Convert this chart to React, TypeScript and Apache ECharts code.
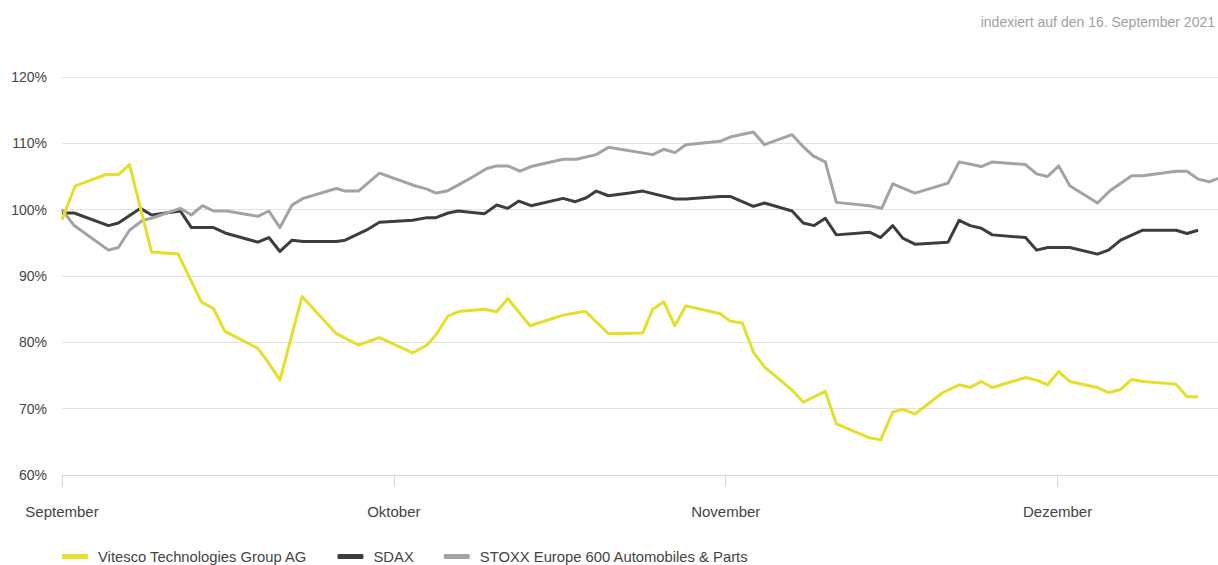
import React, { useEffect, useRef } from "react";
import * as echarts from "echarts";

// x = days since 16 September 2021 (index date), y = indexed value in %
const vitescoDays = [0, 1.2, 4.0, 5.1, 6.1, 8.1, 10.5, 12.6, 13.7, 14.7, 17.7, 18.6, 19.7, 21.7, 24.8, 26.8, 28.7, 31.7, 33.0, 33.8, 34.9, 36.0, 38.2, 39.3, 40.3, 42.3, 45.3, 47.3, 49.4, 52.5, 53.4, 54.4, 55.4, 56.4, 59.5, 60.4, 61.5, 62.5, 63.5, 66.0, 67.0, 69.0, 70.0, 73.0, 74.0, 75.1, 76.0, 77.1, 79.6, 81.1, 82.1, 83.1, 84.1, 87.1, 88.1, 89.1, 90.1, 91.1, 93.6, 94.6, 95.7, 96.7, 97.7, 100.7, 101.7, 102.7];
const vitescoValues = [98.5, 103.6, 105.3, 105.3, 106.8, 93.6, 93.3, 86.1, 85.1, 81.7, 79.1, 77.1, 74.3, 86.9, 81.3, 79.6, 80.7, 78.4, 79.6, 81.1, 84.0, 84.7, 85.0, 84.6, 86.6, 82.5, 84.1, 84.7, 81.3, 81.4, 85.0, 86.1, 82.5, 85.5, 84.3, 83.2, 82.9, 78.5, 76.3, 72.8, 71.0, 72.6, 67.7, 65.6, 65.3, 69.5, 69.9, 69.2, 72.4, 73.6, 73.2, 74.1, 73.2, 74.7, 74.3, 73.6, 75.6, 74.1, 73.2, 72.4, 72.9, 74.4, 74.1, 73.7, 71.8, 71.8];

const sdaxDays = [0, 1.1, 4.2, 5.1, 7.1, 8.1, 10.7, 11.7, 13.7, 14.9, 17.7, 18.7, 19.7, 20.8, 21.8, 24.8, 25.6, 27.5, 28.7, 31.7, 33.0, 33.8, 34.9, 35.8, 38.2, 39.3, 40.3, 41.3, 42.4, 45.3, 46.4, 47.4, 48.3, 49.4, 51.3, 52.5, 55.4, 56.4, 59.5, 60.4, 62.5, 63.5, 66.0, 67.0, 68.0, 69.0, 70.0, 73.0, 74.0, 75.1, 76.0, 77.1, 80.1, 81.1, 82.1, 83.1, 84.1, 87.1, 88.1, 89.1, 91.1, 93.6, 94.6, 95.7, 97.7, 100.7, 101.7, 102.7];
const sdaxValues = [99.5, 99.5, 97.6, 98.0, 100.2, 99.2, 99.8, 97.3, 97.3, 96.4, 95.1, 95.8, 93.7, 95.4, 95.2, 95.2, 95.4, 96.9, 98.1, 98.4, 98.8, 98.8, 99.5, 99.8, 99.4, 100.7, 100.2, 101.3, 100.6, 101.7, 101.2, 101.8, 102.8, 102.1, 102.5, 102.8, 101.6, 101.6, 102.0, 102.0, 100.5, 101.0, 99.8, 98.0, 97.6, 98.7, 96.2, 96.6, 95.8, 97.6, 95.7, 94.8, 95.1, 98.4, 97.6, 97.2, 96.2, 95.8, 93.9, 94.3, 94.3, 93.3, 93.9, 95.4, 96.9, 96.9, 96.4, 96.9];

const stoxxDays = [0, 1.1, 4.2, 5.1, 6.1, 7.3, 8.1, 10.7, 11.7, 12.7, 13.7, 14.9, 17.7, 18.7, 19.7, 20.8, 21.8, 24.8, 25.6, 26.8, 28.7, 31.9, 33.0, 33.8, 34.8, 35.8, 37.2, 38.4, 39.3, 40.3, 41.4, 42.4, 45.3, 46.5, 48.3, 49.4, 53.4, 54.4, 55.4, 56.4, 59.5, 60.5, 62.5, 63.5, 66.0, 67.0, 67.9, 69.0, 70.0, 73.0, 74.1, 75.1, 77.1, 80.1, 81.1, 83.1, 84.1, 87.1, 88.1, 89.1, 90.1, 91.1, 93.6, 94.7, 96.7, 97.7, 100.7, 101.7, 102.7, 103.7, 104.5];
const stoxxValues = [100.0, 97.6, 93.9, 94.3, 96.9, 98.4, 98.7, 100.2, 99.2, 100.6, 99.8, 99.8, 99.0, 99.8, 97.3, 100.7, 101.7, 103.2, 102.8, 102.8, 105.5, 103.6, 103.1, 102.5, 102.8, 103.7, 105.0, 106.2, 106.6, 106.6, 105.8, 106.5, 107.6, 107.6, 108.3, 109.4, 108.3, 109.1, 108.6, 109.8, 110.3, 111.0, 111.7, 109.8, 111.3, 109.5, 108.1, 107.2, 101.1, 100.6, 100.2, 103.9, 102.5, 104.0, 107.2, 106.5, 107.2, 106.8, 105.4, 105.0, 106.6, 103.6, 101.0, 102.8, 105.1, 105.1, 105.8, 105.8, 104.6, 104.2, 104.7];

const monthTickDays = [0, 30, 60, 90];
const monthLabels = ["September", "Oktober", "November", "Dezember"];

const seriesNames = ["Vitesco Technologies Group AG", "SDAX", "STOXX Europe 600 Automobiles & Parts"];
const seriesColors = ["#e3df2b", "#3d3d3d", "#a3a3a3"];

const subtitle = "indexiert auf den 16. September 2021";

const pairs = (xs: number[], ys: number[]) => xs.map((x, i) => [x, ys[i]]);

export default function App() {
  const ref = useRef<HTMLDivElement>(null);
  useEffect(() => {
    if (!ref.current) return;
    const chart = echarts.init(ref.current, null, { renderer: "svg" });
    const font = "Liberation Sans, Arial, Helvetica, sans-serif";
    const datasets = [
      pairs(vitescoDays, vitescoValues),
      pairs(sdaxDays, sdaxValues),
      pairs(stoxxDays, stoxxValues),
    ];
    chart.setOption({
      animation: false,
      backgroundColor: "#ffffff",
      textStyle: { fontFamily: font },
      grid: { left: 62, right: 0, top: 77, bottom: 90, containLabel: false },
      graphic: [
        {
          type: "text",
          right: 3,
          top: 15,
          style: { text: subtitle, fill: "#a0a0a0", font: `14px ${font}` },
        },
      ],
      legend: {
        left: 62,
        top: 549,
        padding: 0,
        icon: "roundRect",
        itemWidth: 26,
        itemHeight: 5,
        itemGap: 30,
        textStyle: { fontSize: 14.8, color: "#444", fontFamily: font, padding: [0, 0, 0, 5] },
        data: seriesNames,
      },
      xAxis: {
        type: "value",
        min: 0,
        max: 104.5,
        interval: 30,
        axisLine: { show: true, lineStyle: { color: "#d6d6d6", width: 1 } },
        axisTick: { show: true, length: 12, lineStyle: { color: "#d6d6d6" } },
        splitLine: { show: false },
        axisLabel: {
          margin: 29,
          fontSize: 15,
          color: "#444",
          showMaxLabel: false,
          formatter: (v: number) => {
            const i = monthTickDays.indexOf(Math.round(v));
            return i >= 0 ? monthLabels[i] : "";
          },
        },
      },
      yAxis: {
        type: "value",
        min: 60,
        max: 120,
        interval: 10,
        axisLine: { show: false },
        axisTick: { show: false },
        splitLine: { lineStyle: { color: "#e2e2e2", width: 1 } },
        axisLabel: { margin: 15, fontSize: 14, color: "#444", formatter: (v: number) => `${v}%` },
      },
      series: seriesNames.map((name, i) => ({
        name,
        type: "line",
        data: datasets[i],
        showSymbol: false,
        symbol: "none",
        color: seriesColors[i],
        lineStyle: { color: seriesColors[i], width: 3, join: "round" },
        z: i === 0 ? 4 : 3,
      })),
    });
    return () => chart.dispose();
  }, []);
  return (
    <div
      ref={ref}
      style={{ position: "fixed", left: 0, top: 0, width: 1218, height: 565, background: "#fff" }}
    />
  );
}
